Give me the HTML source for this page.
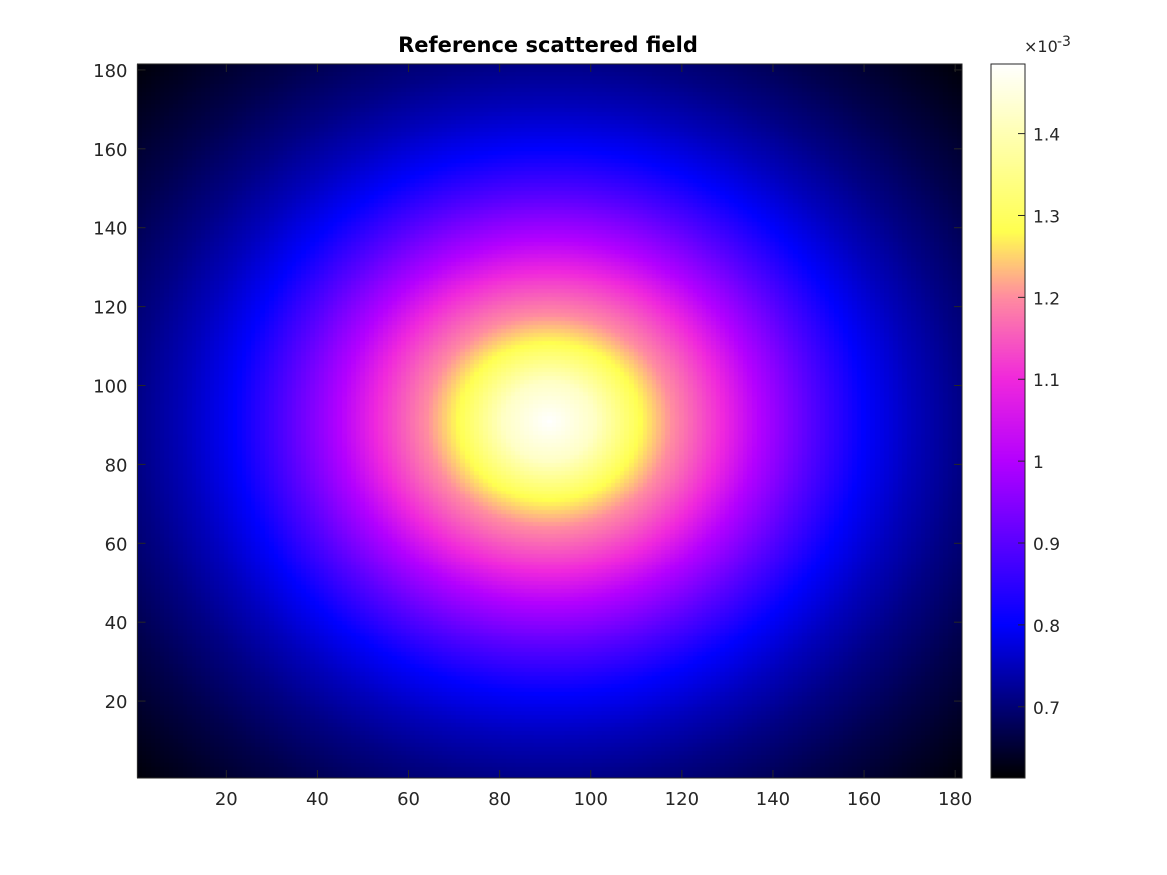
<!DOCTYPE html>
<html><head><meta charset="utf-8"><style>
html,body{margin:0;padding:0;background:#fff;}
#wrap{position:relative;width:1167px;height:875px;font-family:"DejaVu Sans","Liberation Sans",sans-serif;}
</style></head><body>
<div id="wrap">
<canvas id="hm" width="1167" height="875" style="position:absolute;left:0;top:0"></canvas>
<svg id="ov" width="1167" height="875" style="position:absolute;left:0;top:0;font-family:'DejaVu Sans','Liberation Sans',sans-serif"></svg>
</div>
<script>
// data: radial profile of the field (value x1e-3 vs distance from centre in grid units)
const profileRadius = [0, 10, 20, 27, 38, 46, 57, 69, 80, 91, 105, 118, 130];
const profileValue  = [1.485, 1.42, 1.28, 1.2, 1.1, 1.0, 0.9, 0.8, 0.75, 0.71, 0.67, 0.64, 0.615];
const centerX = 91, centerY = 91;
const gridSize = 181;
const xTicks = [20, 40, 60, 80, 100, 120, 140, 160, 180];
const yTicks = [20, 40, 60, 80, 100, 120, 140, 160, 180];
const cbTicks = [0.7, 0.8, 0.9, 1, 1.1, 1.2, 1.3, 1.4];
const cMin = 0.613, cMax = 1.485;
const cmapPos = [0.613, 0.8, 0.9, 1.0, 1.1, 1.2, 1.28, 1.4, 1.485];
const cmapCol = [[0,0,0],[0,0,255],[90,0,255],[180,0,255],[240,40,220],[255,140,160],[255,255,80],[255,255,180],[255,255,255]];

const L = 137.5, T = 64, R = 962, B = 778;
const sx = v => L + (v - 0.5) / gridSize * (R - L);
const sy = v => B - (v - 0.5) / gridSize * (B - T);
const CBL = 991, CBR = 1025;
const cy = v => B - (v - cMin) / (cMax - cMin) * (B - T);

function interp(xs, ys, x) {
  if (x <= xs[0]) return ys[0];
  for (let i = 1; i < xs.length; i++) if (x <= xs[i]) { const t = (x - xs[i-1]) / (xs[i] - xs[i-1]); return ys[i-1] + t * (ys[i] - ys[i-1]); }
  return ys[ys.length - 1];
}
function color(v) {
  let i = 1; while (i < cmapPos.length - 1 && v > cmapPos[i]) i++;
  let t = (v - cmapPos[i-1]) / (cmapPos[i] - cmapPos[i-1]); t = Math.max(0, Math.min(1, t));
  const a = cmapCol[i-1], b = cmapCol[i];
  return 'rgb(' + a.map((c, k) => Math.round(c + t * (b[k] - c))).join(',') + ')';
}
const ctx = document.getElementById('hm').getContext('2d');
for (let i = 1; i <= gridSize; i++) for (let j = 1; j <= gridSize; j++) {
  const r = Math.hypot(i - centerX, j - centerY);
  ctx.fillStyle = color(interp(profileRadius, profileValue, r));
  const x0 = Math.floor(sx(i - 0.5)), x1 = Math.ceil(sx(i + 0.5));
  const y0 = Math.floor(sy(j + 0.5)), y1 = Math.ceil(sy(j - 0.5));
  ctx.fillRect(x0, y0, x1 - x0, y1 - y0);
}
for (let y = T; y < B; y++) { ctx.fillStyle = color(cMin + (B - y - 0.5) / (B - T) * (cMax - cMin)); ctx.fillRect(CBL, y, CBR - CBL, 1); }

const NS = 'http://www.w3.org/2000/svg', svg = document.getElementById('ov');
function el(tag, attrs, text) { const e = document.createElementNS(NS, tag); for (const k in attrs) e.setAttribute(k, attrs[k]); if (text !== undefined) e.textContent = text; svg.appendChild(e); return e; }
let e;
e = el('rect', {x: L, y: T, width: R - L, height: B - T, fill: 'none', stroke: '#262626', 'stroke-width': 1});
 
xTicks.forEach(v => {
  const x = sx(v);
  e = el('line', {x1: x, x2: x, y1: B, y2: B - 8, stroke: '#262626'});  
  e = el('line', {x1: x, x2: x, y1: T, y2: T + 8, stroke: '#262626'});  
  e = el('text', {x: x, y: B + 27, 'text-anchor': 'middle', 'font-size': 18, fill: '#262626'}, String(v));  
});
yTicks.forEach(v => {
  const y = sy(v);
  e = el('line', {x1: L, x2: L + 8, y1: y, y2: y, stroke: '#262626'});  
  e = el('line', {x1: R, x2: R - 8, y1: y, y2: y, stroke: '#262626'});  
  e = el('text', {x: L - 10, y: y + 7, 'text-anchor': 'end', 'font-size': 18, fill: '#262626'}, String(v));  
});
e = el('rect', {x: CBL, y: T, width: CBR - CBL, height: B - T, fill: 'none', stroke: '#262626'});
 
cbTicks.forEach(v => {
  const y = cy(v);
  e = el('line', {x1: CBR - 7, x2: CBR, y1: y, y2: y, stroke: '#262626'});  
  e = el('text', {x: CBR + 8, y: y + 7, 'font-size': 17, fill: '#262626'}, String(v));  
});
e = el('text', {x: 1024, y: 52, 'font-size': 16, fill: '#262626'}, '×10');
 
e = el('text', {x: 1057, y: 46, 'font-size': 14, fill: '#262626'}, '-3');
 
e = el('text', {x: 548, y: 52, 'text-anchor': 'middle', 'font-size': 21, 'font-weight': 'bold', fill: '#000'}, 'Reference scattered field');
 
</script>
</body></html>
